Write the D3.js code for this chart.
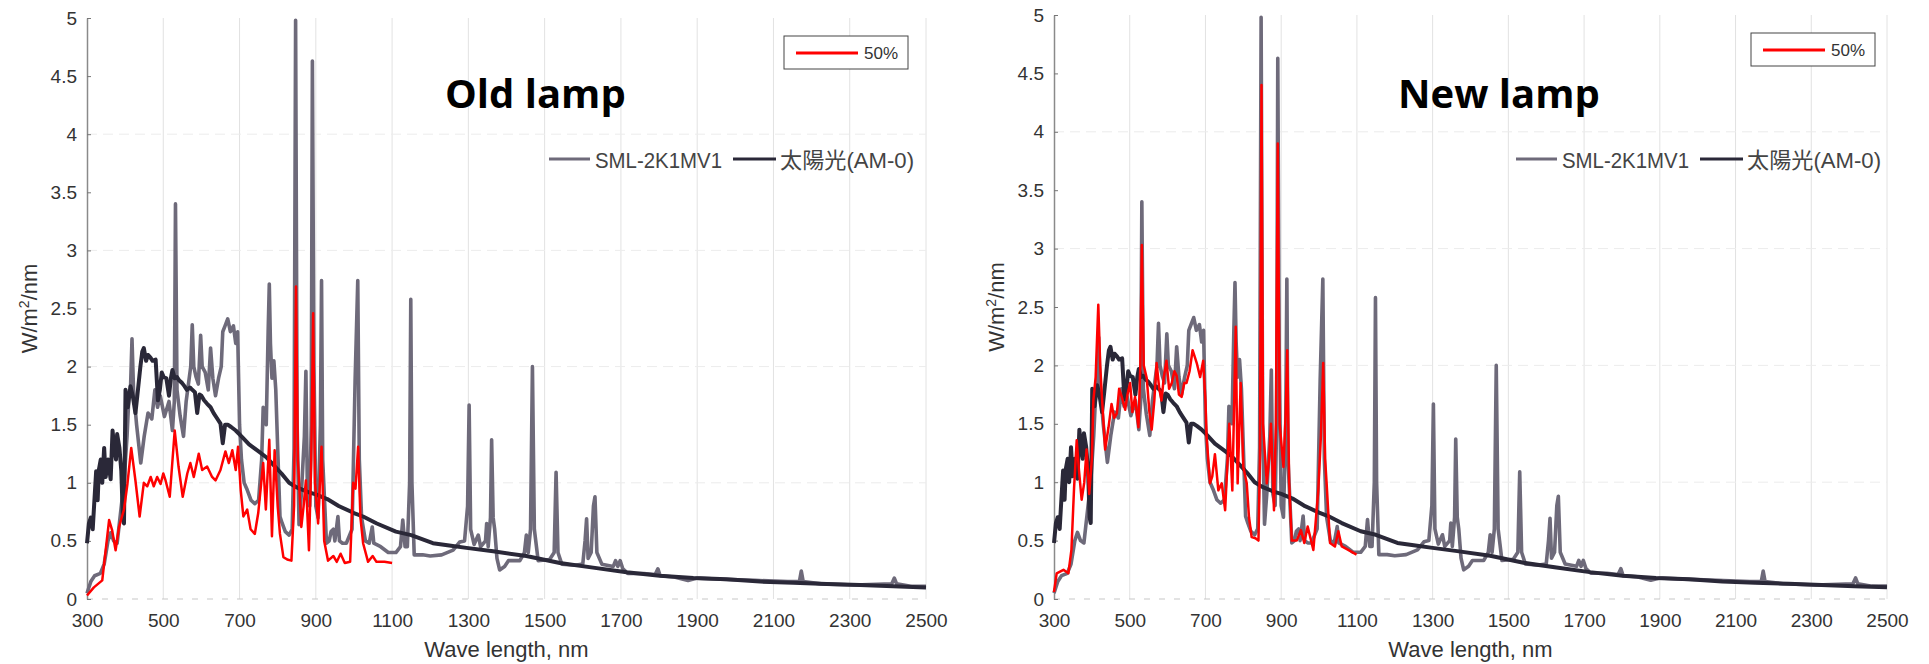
<!DOCTYPE html>
<html>
<head>
<meta charset="utf-8">
<script src="https://cdn.jsdelivr.net/npm/d3@7"></script>
<style>
  html, body { margin: 0; padding: 0; background: #fff; }
  svg { display: block; }
  .axis text { font-family: "Liberation Sans", Arial, sans-serif; font-size: 19px; fill: #333; }
  .axis-title { font-family: "Liberation Sans", Arial, sans-serif; font-size: 22px; fill: #333; }
  .panel-title { font-family: "Open Sans", sans-serif; font-weight: bold; font-size: 40px; fill: #000; }
  .legend-text { font-family: "Liberation Sans", "Noto Sans CJK JP", sans-serif; font-size: 22px; fill: #444; }
</style>
</head>
<body>
<svg id="chart" width="1929" height="664"></svg>
<script>
const xTicks = [300, 500, 700, 900, 1100, 1300, 1500, 1700, 1900, 2100, 2300, 2500];
const yTicks = [0, 0.5, 1, 1.5, 2, 2.5, 3, 3.5, 4, 4.5, 5];
const panelTitles = ["Old lamp", "New lamp"];
const seriesNames = ["SML-2K1MV1", "太陽光(AM-0)", "50%"];

// lamp reference spectrum (gray), [nm, W/m2/nm]
const smlSpectrum = [
  [300,0.05],[310,0.15],[320,0.2],[335,0.22],[345,0.3],[355,0.5],[362,0.57],[370,0.5],[379,0.48],
  [390,0.8],[397,1.0],[405,1.4],[410,1.75],[414,1.8],[418,2.24],[422,1.8],[430,1.5],[441,1.17],
  [450,1.4],[460,1.6],[470,1.55],[478,1.8],[485,1.65],[492,1.75],[503,1.57],[515,1.7],[524,1.45],
  [529,1.7],[532,3.4],[536,1.8],[544,1.58],[553,1.4],[560,1.7],[568,1.9],[572,2.0],[576,2.36],
  [580,2.0],[586,1.91],[592,1.85],[598,2.27],[602,2.0],[610,1.95],[618,1.8],[624,2.16],[630,1.9],
  [637,1.75],[645,1.9],[652,2.0],[656,2.3],[662,2.35],[669,2.41],[676,2.3],[684,2.35],[690,2.2],
  [695,2.3],[700,1.5],[705,1.2],[712,1.0],[720,0.94],[730,0.85],[740,0.82],[750,0.85],[758,1.2],
  [762,1.65],[770,1.5],[775,2.3],[778,2.71],[781,2.2],[785,1.9],[790,2.05],[795,1.8],[800,1.3],
  [806,0.71],[812,0.65],[820,0.58],[830,0.55],[838,0.6],[843,1.3],[847,4.98],[851,1.5],[856,0.64],
  [862,0.9],[870,1.4],[874,1.96],[878,0.9],[884,0.8],[888,1.5],[891,4.63],[895,2.0],[900,0.8],
  [906,0.7],[912,1.5],[915,2.74],[918,1.2],[928,0.48],[935,0.5],[940,0.58],[946,0.6],[950,0.5],
  [958,0.71],[962,0.5],[970,0.48],[980,0.48],[995,0.6],[1003,1.88],[1010,2.74],[1014,1.2],[1020,0.7],
  [1030,0.5],[1040,0.48],[1048,0.62],[1052,0.48],[1070,0.45],[1090,0.4],[1110,0.4],[1122,0.45],
  [1128,0.68],[1134,0.45],[1140,0.45],[1146,1.0],[1149,2.58],[1152,1.0],[1158,0.38],[1180,0.38],
  [1200,0.37],[1230,0.38],[1260,0.42],[1277,0.49],[1290,0.5],[1298,0.8],[1302,1.67],[1306,0.6],
  [1315,0.47],[1326,0.55],[1332,0.45],[1345,0.5],[1348,0.65],[1352,0.45],[1358,0.7],[1361,1.37],
  [1365,0.7],[1369,0.6],[1375,0.35],[1382,0.25],[1395,0.28],[1405,0.33],[1435,0.33],[1447,0.4],
  [1452,0.55],[1457,0.4],[1463,0.6],[1468,2.0],[1473,0.6],[1483,0.33],[1513,0.34],[1525,0.4],
  [1530,1.09],[1535,0.4],[1545,0.3],[1580,0.29],[1600,0.3],[1606,0.5],[1610,0.69],[1614,0.35],
  [1622,0.4],[1628,0.8],[1632,0.88],[1637,0.4],[1650,0.3],[1680,0.28],[1686,0.33],[1692,0.28],
  [1698,0.33],[1705,0.26],[1718,0.22],[1760,0.22],[1790,0.21],[1797,0.26],[1803,0.2],[1840,0.19],
  [1876,0.16],[1900,0.18],[1964,0.17],[2051,0.16],[2138,0.15],[2168,0.15],[2173,0.24],[2178,0.15],
  [2225,0.13],[2312,0.12],[2410,0.13],[2417,0.18],[2423,0.13],[2460,0.11],[2500,0.11]
];

// sunlight AM-0 (dark)
const sunAM0 = [
  [300,0.48],[305,0.65],[310,0.7],[315,0.6],[318,0.77],[324,1.1],[328,0.85],[331,1.11],[336,1.2],
  [340,1.0],[345,1.3],[349,1.05],[355,1.2],[362,1.03],[367,1.45],[371,1.31],[376,1.2],[379,1.42],
  [385,1.3],[390,1.1],[394,0.7],[397,0.65],[401,1.8],[407,1.65],[414,1.83],[420,1.75],[427,1.6],
  [432,1.75],[440,2.0],[445,2.13],[449,2.16],[455,2.05],[460,2.1],[466,2.08],[472,2.05],[480,2.06],
  [486,1.71],[491,1.8],[496,1.95],[501,1.91],[508,1.9],[515,1.75],[520,1.9],[524,1.97],[530,1.9],
  [536,1.91],[542,1.88],[549,1.86],[556,1.83],[562,1.8],[570,1.82],[576,1.8],[583,1.78],[589,1.6],
  [595,1.76],[600,1.75],[607,1.71],[615,1.68],[624,1.65],[632,1.6],[640,1.56],[650,1.51],[656,1.34],
  [662,1.5],[669,1.5],[678,1.48],[690,1.45],[705,1.4],[725,1.33],[750,1.27],[770,1.22],[790,1.15],
  [810,1.08],[830,1.0],[850,0.96],[880,0.92],[900,0.9],[930,0.86],[960,0.8],[1000,0.74],[1024,0.71],
  [1060,0.65],[1110,0.58],[1150,0.55],[1207,0.48],[1250,0.46],[1295,0.44],[1365,0.41],[1452,0.37],
  [1540,0.31],[1627,0.27],[1715,0.23],[1802,0.2],[1890,0.18],[1977,0.17],[2065,0.15],[2152,0.14],
  [2240,0.13],[2327,0.12],[2414,0.11],[2500,0.1]
];

// 50% setting, old lamp (red, left)
const lampOld50 = [
  [300,0.03],[318,0.1],[340,0.16],[349,0.42],[358,0.68],[366,0.59],[375,0.42],[384,0.62],[397,0.77],
  [406,0.99],[416,1.3],[427,1.02],[438,0.71],[449,1.0],[458,0.97],[467,1.05],[475,0.97],[484,1.05],
  [493,0.99],[500,1.08],[506,1.02],[517,0.88],[530,1.45],[540,1.14],[551,0.88],[563,1.08],[571,1.17],
  [580,1.05],[593,1.25],[602,1.11],[615,1.14],[628,1.05],[637,1.02],[650,1.11],[663,1.27],[672,1.17],
  [681,1.28],[690,1.11],[696,1.31],[703,0.94],[710,0.71],[720,0.77],[729,0.6],[740,0.56],[749,0.74],
  [762,1.17],[769,0.77],[778,1.37],[785,0.54],[792,1.28],[800,0.8],[806,0.56],[815,0.36],[825,0.34],
  [836,0.33],[843,0.8],[848,2.69],[853,1.2],[862,0.62],[868,0.8],[874,1.02],[882,0.42],[888,1.2],
  [893,2.46],[898,1.0],[906,0.65],[915,1.31],[922,0.5],[932,0.33],[946,0.37],[955,0.32],[965,0.39],
  [976,0.31],[990,0.32],[998,1.0],[1004,0.95],[1011,1.31],[1017,0.7],[1024,0.48],[1037,0.32],
  [1049,0.37],[1059,0.32],[1080,0.32],[1100,0.31]
];

// 50% setting, new lamp (red, right)
const lampNew50 = [
  [300,0.06],[307,0.22],[325,0.25],[338,0.22],[346,0.42],[353,0.95],[360,1.36],[366,1.1],[373,0.85],
  [380,1.0],[386,1.28],[393,0.9],[400,1.2],[404,1.7],[410,1.9],[417,2.52],[422,2.0],[426,1.76],
  [435,1.28],[444,1.47],[452,1.67],[459,1.55],[466,1.59],[472,1.8],[479,1.73],[488,1.62],[494,1.75],
  [501,1.85],[507,1.6],[514,1.73],[523,1.47],[528,2.0],[532,3.03],[537,2.0],[545,1.89],[552,1.6],
  [558,1.45],[565,1.7],[571,2.02],[578,1.8],[584,1.7],[590,1.9],[597,2.04],[604,1.8],[611,1.85],
  [618,1.95],[624,1.91],[630,1.75],[637,1.73],[644,1.85],[650,1.85],[658,1.95],[666,2.13],[672,2.07],
  [677,2.02],[686,1.9],[694,2.04],[700,1.7],[703,1.39],[712,0.99],[718,1.05],[725,1.24],[734,0.93],
  [743,0.99],[752,0.76],[763,1.5],[771,0.93],[780,2.33],[785,0.99],[793,1.85],[800,1.13],[809,0.99],
  [815,0.7],[822,0.53],[832,0.52],[840,0.5],[844,1.2],[848,4.4],[852,1.5],[862,0.99],[868,1.2],
  [873,1.5],[881,0.76],[886,1.5],[891,3.9],[896,1.5],[906,1.13],[912,1.6],[916,2.13],[921,1.0],
  [928,0.5],[941,0.5],[952,0.59],[961,0.48],[970,0.62],[985,0.42],[998,0.93],[1005,1.4],[1011,2.02],
  [1016,1.2],[1020,0.99],[1029,0.48],[1042,0.45],[1051,0.58],[1060,0.45],[1077,0.42],[1099,0.38]
];

const colors = { sml: "#6e6a7a", sun: "#2a2838", red: "#ff0000" };

const svg = d3.select("#chart");

const panels = [
  { left: 87, right: 926, top: 18, bottom: 599, title: panelTitles[0], titleX: 445, red: lampOld50 },
  { left: 1054, right: 1887, top: 15, bottom: 599, title: panelTitles[1], titleX: 1398, red: lampNew50 }
];

panels.forEach(drawPanel);

function drawPanel(p) {
  const x = d3.scaleLinear().domain([300, 2500]).range([p.left, p.right]);
  const y = d3.scaleLinear().domain([0, 5]).range([p.bottom, p.top]);
  const g = svg.append("g");

  // faint grid
  g.append("g").selectAll("line")
    .data(xTicks.slice(1))
    .enter().append("line")
    .attr("x1", d => x(d)).attr("x2", d => x(d))
    .attr("y1", y(0)).attr("y2", y(5))
    .attr("stroke", "#e2e2e2").attr("stroke-width", 1);
  g.append("g").selectAll("line")
    .data([1, 2, 3, 4])
    .enter().append("line")
    .attr("x1", x(300)).attr("x2", x(2500))
    .attr("y1", d => y(d)).attr("y2", d => y(d))
    .attr("stroke", "#ececec").attr("stroke-width", 1)
    .attr("stroke-dasharray", "10,6");

  // dotted baseline
  g.append("line")
    .attr("x1", x(300)).attr("x2", x(2500))
    .attr("y1", y(0)).attr("y2", y(0))
    .attr("stroke", "#c8c8c8").attr("stroke-width", 1.2)
    .attr("stroke-dasharray", "6,9");

  // axes
  const yAxis = d3.axisLeft(y).tickValues(yTicks)
    .tickFormat(d3.format("~g"))
    .tickSizeInner(-4).tickSizeOuter(0).tickPadding(10);
  const ya = g.append("g").attr("class", "axis")
    .attr("transform", `translate(${x(300)},0)`).call(yAxis);
  ya.select(".domain").attr("stroke", "#8a8a8a").attr("stroke-width", 1.5);
  ya.selectAll(".tick line").attr("stroke", "#777");

  const xAxis = d3.axisBottom(x).tickValues(xTicks)
    .tickFormat(d3.format("d")).tickSize(0).tickPadding(15);
  const xa = g.append("g").attr("class", "axis")
    .attr("transform", `translate(0,${y(0)})`).call(xAxis);
  xa.select(".domain").remove();

  g.append("text").attr("class", "axis-title")
    .attr("x", (x(300) + x(2500)) / 2).attr("y", y(0) + 58)
    .attr("text-anchor", "middle")
    .text("Wave length, nm");

  g.append("text").attr("class", "axis-title")
    .attr("transform", `translate(${x(300) - 50},${(y(0) + y(5)) / 2}) rotate(-90)`)
    .attr("text-anchor", "middle")
    .html("W/m<tspan dy='-8' font-size='14'>2</tspan><tspan dy='8'>/nm</tspan>");

  // spectra
  const line = d3.line().x(d => x(d[0])).y(d => y(d[1]));
  g.append("path").datum(smlSpectrum)
    .attr("d", line).attr("fill", "none")
    .attr("stroke", colors.sml).attr("stroke-width", 3.6).attr("stroke-linejoin", "round");
  g.append("path").datum(sunAM0)
    .attr("d", line).attr("fill", "none")
    .attr("stroke", colors.sun).attr("stroke-width", 4).attr("stroke-linejoin", "round");
  g.append("path").datum(p.red)
    .attr("d", line).attr("fill", "none")
    .attr("stroke", colors.red).attr("stroke-width", 2.5).attr("stroke-linejoin", "round");

  // title
  g.append("text").attr("class", "panel-title")
    .attr("x", p.titleX).attr("y", 108)
    .text(p.title);

  // boxed legend (50%)
  const bx = p.left + 697, by = p.top + 18;
  const box = g.append("g").attr("transform", `translate(${bx},${by})`);
  box.append("rect").attr("width", 124).attr("height", 33)
    .attr("fill", "#fff").attr("stroke", "#444").attr("stroke-width", 1);
  box.append("line").attr("x1", 12).attr("x2", 74).attr("y1", 17).attr("y2", 17)
    .attr("stroke", colors.red).attr("stroke-width", 3);
  box.append("text").attr("x", 80).attr("y", 23)
    .attr("font-family", "Liberation Sans, Arial, sans-serif").attr("font-size", 17)
    .attr("fill", "#333").text(seriesNames[2]);

  // inline legend
  const ly = 159;
  const lg = g.append("g").attr("transform", `translate(${p.left},0)`);
  lg.append("line").attr("x1", 462).attr("x2", 503).attr("y1", ly).attr("y2", ly)
    .attr("stroke", colors.sml).attr("stroke-width", 3);
  lg.append("text").attr("class", "legend-text").attr("x", 508).attr("y", ly + 9)
    .attr("textLength", 127).attr("lengthAdjust", "spacingAndGlyphs")
    .text(seriesNames[0]);
  lg.append("line").attr("x1", 646).attr("x2", 689).attr("y1", ly).attr("y2", ly)
    .attr("stroke", colors.sun).attr("stroke-width", 3);
  lg.append("text").attr("class", "legend-text").attr("x", 693).attr("y", ly + 9)
    .attr("textLength", 134).attr("lengthAdjust", "spacingAndGlyphs")
    .text(seriesNames[1]);
}
</script>
</body>
</html>
